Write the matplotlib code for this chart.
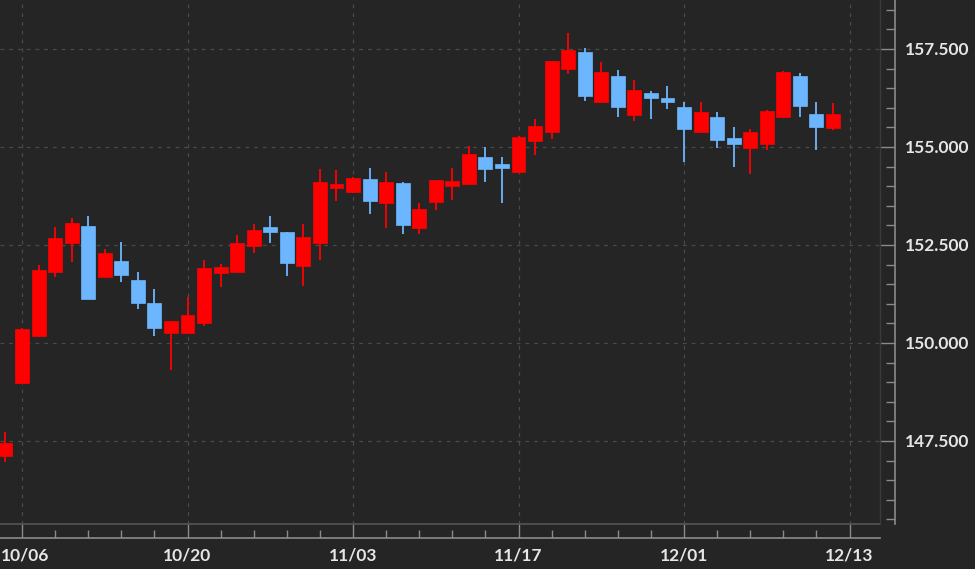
import matplotlib
matplotlib.use("Agg")
import matplotlib.pyplot as plt
import numpy as np
from matplotlib.ticker import MultipleLocator, FixedLocator, FuncFormatter
from matplotlib.transforms import ScaledTranslation

# ---------------- data ----------------
dates = ["10/03", "10/06", "10/07", "10/08", "10/09", "10/10",
         "10/13", "10/14", "10/15", "10/16", "10/17",
         "10/20", "10/21", "10/22", "10/23", "10/24",
         "10/27", "10/28", "10/29", "10/30", "10/31",
         "11/03", "11/04", "11/05", "11/06", "11/07",
         "11/10", "11/11", "11/12", "11/13", "11/14",
         "11/17", "11/18", "11/19", "11/20", "11/21",
         "11/24", "11/25", "11/26", "11/27", "11/28",
         "12/01", "12/02", "12/03", "12/04", "12/05",
         "12/08", "12/09", "12/10", "12/11", "12/12"]

opens = [147.12, 148.99, 150.18, 151.82, 152.56, 152.98,
         151.69, 152.09, 151.61, 151.03, 150.26,
         150.26, 150.50, 151.79, 151.82, 152.47,
         152.97, 152.82, 151.96, 152.56, 153.95,
         153.84, 154.18, 153.56, 154.07, 152.93,
         153.59, 154.01, 154.06, 154.74, 154.57,
         154.36, 155.16, 155.39, 156.98, 157.43,
         156.16, 156.80, 155.82, 156.37, 156.26,
         156.01, 155.37, 155.77, 155.22, 154.97,
         155.07, 155.77, 156.80, 155.83, 155.48]
highs = [147.73, 150.38, 151.99, 152.95, 153.18, 153.25,
         152.39, 152.58, 151.82, 151.37, 150.57,
         151.18, 152.12, 152.01, 152.75, 153.04,
         153.24, 152.84, 153.04, 154.43, 154.41,
         154.24, 154.46, 154.35, 154.10, 153.56,
         154.17, 154.46, 155.03, 154.99, 154.74,
         155.27, 155.71, 157.20, 157.90, 157.52,
         157.18, 156.96, 156.71, 156.43, 156.56,
         156.16, 156.16, 155.88, 155.52, 155.45,
         155.95, 156.93, 156.90, 156.16, 156.12]
lows = [146.96, 148.97, 150.15, 151.69, 152.07, 151.11,
        151.69, 151.56, 150.86, 150.18, 149.31,
        150.22, 150.42, 151.42, 151.80, 152.29,
        152.54, 151.71, 151.45, 152.12, 153.63,
        153.82, 153.28, 152.93, 152.78, 152.78,
        153.39, 153.65, 154.03, 154.10, 153.57,
        154.34, 154.80, 155.20, 156.86, 156.17,
        156.14, 155.77, 155.65, 155.71, 155.96,
        154.62, 155.35, 154.97, 154.48, 154.31,
        154.91, 155.75, 155.77, 154.92, 155.43]
closes = [147.45, 150.35, 151.86, 152.69, 153.07, 151.11,
          152.29, 151.73, 151.03, 150.38, 150.57,
          150.71, 151.90, 151.95, 152.56, 152.88,
          152.84, 152.05, 152.71, 154.11, 154.06,
          154.22, 153.63, 154.10, 153.01, 153.41,
          154.16, 154.13, 154.81, 154.44, 154.47,
          155.25, 155.54, 157.19, 157.47, 156.30,
          156.92, 156.03, 156.45, 156.26, 156.14,
          155.45, 155.88, 155.18, 155.08, 155.39,
          155.93, 156.91, 156.05, 155.50, 155.83]

axis_dates = dates + ["12/13"]
tick_labels = ["10/06", "10/20", "11/03", "11/17", "12/01", "12/13"]
y_major = [147.5, 150.0, 152.5, 155.0, 157.5]

# ---------------- style ----------------
BG = "#252525"
UP = "#ff0000"
DOWN = "#6cb6ff"
GRID = "#4a4a4a"
AXIS = "#8a8a8a"
TXT = "#e6e6e6"

W, H = 975, 569
fig = plt.figure(figsize=(W / 100, H / 100), dpi=100, facecolor=BG)
ax = fig.add_axes([0, 45 / H, 880 / W, 1 - 45 / H])
ax.set_facecolor(BG)

o = np.array(opens); h = np.array(highs); l = np.array(lows); c = np.array(closes)
x = np.arange(len(dates))
up = c >= o
cols = np.where(up, UP, DOWN)

ax.vlines(x, l, h, colors=cols, linewidth=1.3, zorder=3)
bottoms = np.minimum(o, c)
heights = np.maximum(np.abs(c - o), 0.08)
ax.bar(x, heights, bottom=bottoms, width=0.84, color=cols, edgecolor=cols,
       linewidth=0.5, zorder=4)

ax.set_xlim(-0.33, 52.84)
ax.set_ylim(145.38, 158.75)

# x axis ticks
major_x = [axis_dates.index(t) for t in tick_labels]
minor_x = list(range(major_x[0], len(axis_dates), 2))
ax.xaxis.set_major_locator(FixedLocator(major_x))
ax.xaxis.set_minor_locator(FixedLocator(minor_x))
ax.set_xticklabels(tick_labels)

ax.yaxis.set_major_locator(FixedLocator(y_major))
ax.yaxis.set_minor_locator(MultipleLocator(0.5))
ax.yaxis.set_major_formatter(FuncFormatter(lambda v, p: f"{v:.3f}"))
ax.yaxis.tick_right()

for s in ["top", "left"]:
    ax.spines[s].set_visible(False)
ax.spines["right"].set_position(("outward", 15 * 0.72))
ax.spines["bottom"].set_position(("outward", 14 * 0.72))
for s in ["right", "bottom"]:
    ax.spines[s].set_color(AXIS)
    ax.spines[s].set_linewidth(1.2)

ax.tick_params(axis="y", which="major", direction="in", length=15 * 0.72,
               width=1.0, color=AXIS, pad=7, labelcolor=TXT, labelsize=12.5)
ax.tick_params(axis="y", which="minor", direction="in", length=9 * 0.72,
               width=1.0, color=AXIS)
ax.tick_params(axis="x", which="major", direction="in", length=14 * 0.72,
               width=1.0, color=AXIS, pad=6.5, labelcolor=TXT, labelsize=12.5)
ax.tick_params(axis="x", which="minor", direction="in", length=8 * 0.72,
               width=1.0, color=AXIS)

for lab in ax.get_xticklabels() + ax.get_yticklabels():
    lab.set_fontfamily(["Lato", "DejaVu Sans"])
    lab.set_fontweight("bold")

# keep the first date label inside the figure (as in the reference)
first = ax.get_xticklabels()[0]
first.set_horizontalalignment("left")
first.set_transform(first.get_transform() + ScaledTranslation(-21 / 100, 0, fig.dpi_scale_trans))

ax.grid(True, which="major", color=GRID, linestyle=(0, (3, 4)), linewidth=0.9, zorder=0)

# plot frame lines (bottom and right borders of plot area)
ax.plot([0, 1], [0, 0], transform=ax.transAxes, color="#555555", lw=1.2,
        clip_on=False, zorder=2)
ax.plot([1, 1], [0, 1], transform=ax.transAxes, color="#3a3a3a", lw=1.0,
        clip_on=False, zorder=2)

fig.savefig("out.png", dpi=100, facecolor=BG)
